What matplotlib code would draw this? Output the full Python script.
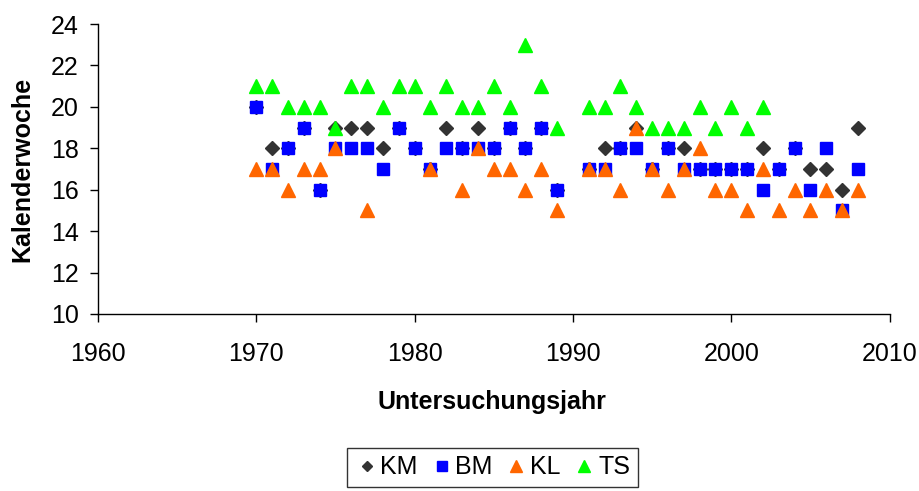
import numpy as np
import matplotlib
matplotlib.use("Agg")
import matplotlib.pyplot as plt

nan = np.nan

years = list(range(1970, 1990)) + list(range(1991, 2009))

km = [20, 18, 18, 19, 16, 19, 19, 19, 18, 19, 18, 17, 19, 18, 19, 18, 19, 18, 19, 16,
      17, 18, 18, 19, 17, 18, 18, 17, 17, 17, 17, 18, 17, 18, 17, 17, 16, 19]
bm = [20, 17, 18, 19, 16, 18, 18, 18, 17, 19, 18, 17, 18, 18, 18, 18, 19, 18, 19, 16,
      17, 17, 18, 18, 17, 18, 17, 17, 17, 17, 17, 16, 17, 18, 16, 18, 15, 17]
kl = [17, 17, 16, 17, 17, 18, nan, 15, nan, nan, nan, 17, nan, 16, 18, 17, 17, 16, 17, 15,
      17, 17, 16, 19, 17, 16, 17, 18, 16, 16, 15, 17, 15, 16, 15, 16, 15, 16]
ts = [21, 21, 20, 20, 20, 19, 21, 21, 20, 21, 21, 20, 21, 20, 20, 21, 20, 23, 21, 19,
      20, 20, 21, 20, 19, 19, 19, 20, 19, 20, 19, 20, nan, nan, nan, nan, nan, nan]

plt.rcParams['font.family'] = ['Liberation Sans', 'DejaVu Sans']

fig = plt.figure(figsize=(9.2, 4.91), dpi=100)
ax = fig.add_axes([0.1065, 0.3605, 0.8605, 0.5905])

ax.plot(years, km, linestyle='none', marker='D', color='#333333', markersize=6.8, label='KM')
ax.plot(years, bm, linestyle='none', marker='s', color='#0000FF', markersize=8.5, label='BM')
ax.plot(years, kl, linestyle='none', marker='^', color='#FF6600', markersize=10, label='KL')
ax.plot(years, ts, linestyle='none', marker='^', color='#00FF00', markersize=10, label='TS')

ax.set_xlim(1960, 2010)
ax.set_ylim(10, 24)
ax.set_xticks(range(1960, 2011, 10))
ax.set_yticks(range(10, 25, 2))
ax.tick_params(labelsize=18, direction='out', length=6, width=1)
ax.tick_params(axis='y', pad=8)
ax.tick_params(axis='x', pad=14)
for s in ['top', 'right']:
    ax.spines[s].set_visible(False)
for s in ['left', 'bottom']:
    ax.spines[s].set_color('black')
    ax.spines[s].set_linewidth(1)

ax.set_ylabel('Kalenderwoche', fontsize=18, fontweight='bold')
ax.yaxis.set_label_coords(-0.08, 0.5)
fig.text(0.535, 1 - 402 / 491, 'Untersuchungsjahr', fontsize=18, fontweight='bold',
         ha='center', va='center')

leg = fig.legend(loc='upper center', bbox_to_anchor=(0.535, 0.0876), ncol=4,
                 fontsize=18, frameon=True, fancybox=False, handletextpad=0.05,
                 columnspacing=0.45, borderpad=0.3, handlelength=1.0,
                 markerscale=0.8, borderaxespad=0)
leg.get_frame().set_edgecolor('black')
leg.get_frame().set_linewidth(1)

fig.savefig('out.png', dpi=100)
